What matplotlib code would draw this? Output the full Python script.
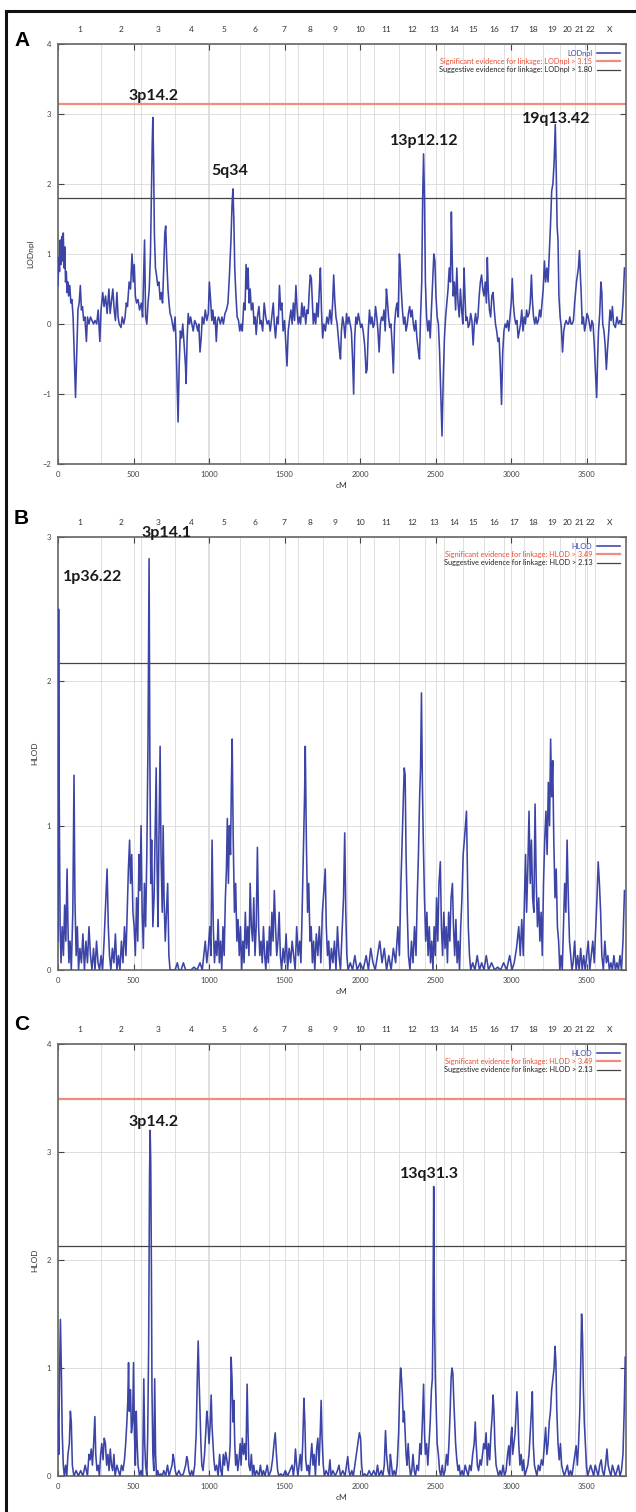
import numpy as np
import matplotlib
matplotlib.use("Agg")
import matplotlib.pyplot as plt
from matplotlib.lines import Line2D

plt.rcParams['font.family'] = ['Lato', 'DejaVu Sans']

# chromosome names and genetic lengths (cM)
chrom_names = ['1', '2', '3', '4', '5', '6', '7', '8', '9', '10', '11', '12',
               '13', '14', '15', '16', '17', '18', '19', '20', '21', '22', 'X']
chrom_len = [287, 260, 226, 220, 215, 190, 190, 165, 160, 180, 165, 170,
             130, 125, 135, 135, 130, 130, 110, 100, 65, 70, 185]

# panel A: LODnpl (cM, LOD)
lodnpl_a = [
    (0, 0.55), (5, 0.95), (10, 0.75), (15, 1.2), (20, 0.85), (25, 1.25), (30, 0.9), (35, 1.3),
    (40, 0.8), (45, 1.1), (50, 0.6), (55, 0.75), (60, 0.45), (65, 0.6), (70, 0.4), (78, 0.55),
    (85, 0.3), (92, 0.35), (100, 0.1), (108, -0.5), (116, -1.05), (124, -0.4), (132, 0.2),
    (140, 0.3), (148, 0.55), (155, 0.2), (162, 0.25), (170, 0.05), (178, 0.1), (188, -0.25),
    (195, 0.1), (205, 0.0), (215, 0.1), (225, 0.05), (235, 0.0), (245, 0.05), (256, 0.0),
    (266, 0.2), (277, -0.25), (285, 0.2), (296, 0.45), (305, 0.25), (315, 0.4), (325, 0.15),
    (337, 0.5), (345, 0.15), (355, 0.35), (363, 0.5), (372, 0.2), (380, 0.05), (390, 0.45),
    (398, 0.1), (405, 0.0), (417, -0.05), (425, 0.1), (435, 0.0), (444, 0.1), (452, 0.3),
    (460, 0.25), (471, 0.6), (480, 0.5), (490, 1.0), (498, 0.6), (505, 0.85), (512, 0.4),
    (520, 0.3), (530, 0.35), (540, 0.2), (552, 0.3), (560, 0.1), (566, 0.6), (573, 1.2),
    (580, 0.1), (588, 0.0), (596, 0.3), (604, 0.5), (612, 1.0), (618, 1.8), (624, 2.6),
    (628, 2.95), (633, 2.3), (638, 1.3), (645, 0.8), (652, 0.7), (660, 0.55), (668, 0.6),
    (676, 0.35), (684, 0.45), (692, 0.3), (700, 0.8), (707, 1.3), (713, 1.4), (720, 0.9),
    (728, 0.5), (735, 0.3), (742, 0.15), (750, 0.1), (758, 0.0), (766, -0.1), (775, 0.1),
    (782, -0.3), (790, -1.0), (795, -1.4), (802, -0.6), (810, -0.1), (818, -0.2), (826, 0.0),
    (835, -0.3), (844, -0.6), (848, -0.85), (855, -0.2), (862, 0.15), (870, 0.0), (878, 0.1),
    (886, 0.0), (895, -0.1), (905, 0.05), (915, 0.0), (925, -0.1), (932, 0.0), (940, -0.4),
    (948, -0.2), (955, 0.1), (965, 0.0), (975, 0.2), (985, 0.05), (995, 0.15), (1002, 0.6),
    (1010, 0.35), (1018, 0.05), (1025, 0.2), (1032, 0.0), (1040, 0.1), (1048, -0.25),
    (1055, 0.05), (1063, 0.1), (1075, 0.0), (1085, 0.1), (1095, 0.0), (1105, 0.15),
    (1115, 0.2), (1125, 0.3), (1135, 0.7), (1145, 1.2), (1152, 1.7), (1158, 1.93),
    (1164, 1.5), (1170, 0.8), (1178, 0.4), (1186, 0.1), (1195, 0.05), (1203, -0.1),
    (1212, 0.0), (1220, -0.1), (1230, 0.3), (1238, 0.2), (1245, 0.85), (1252, 0.5),
    (1258, 0.8), (1265, 0.3), (1272, 0.5), (1280, 0.2), (1290, 0.3), (1298, 0.0), (1305, 0.1),
    (1312, -0.15), (1320, 0.1), (1330, 0.25), (1338, 0.0), (1345, 0.05), (1355, -0.1),
    (1365, 0.3), (1375, 0.1), (1385, 0.0), (1395, 0.05), (1405, -0.1), (1415, 0.1),
    (1425, 0.3), (1432, 0.0), (1440, -0.2), (1450, 0.1), (1458, 0.0), (1466, 0.55),
    (1474, 0.2), (1482, 0.3), (1490, -0.1), (1500, 0.05), (1510, -0.35), (1516, -0.6),
    (1524, -0.1), (1532, 0.05), (1542, 0.2), (1550, 0.0), (1558, 0.3), (1566, 0.05),
    (1575, 0.55), (1583, 0.2), (1590, 0.0), (1598, 0.1), (1606, 0.0), (1614, 0.3),
    (1622, 0.1), (1630, 0.25), (1640, 0.0), (1648, 0.2), (1656, 0.15), (1664, 0.5),
    (1670, 0.7), (1677, 0.65), (1684, 0.3), (1690, 0.0), (1698, 0.15), (1706, 0.0),
    (1714, 0.3), (1722, 0.1), (1730, 0.5), (1737, 0.8), (1744, 0.2), (1752, -0.2),
    (1760, 0.0), (1770, -0.1), (1780, 0.1), (1790, 0.0), (1800, 0.2), (1810, 0.0),
    (1818, 0.3), (1825, 0.7), (1832, 0.35), (1840, 0.1), (1848, 0.0), (1856, -0.2),
    (1864, -0.4), (1870, -0.5), (1876, -0.1), (1884, 0.1), (1892, 0.0), (1900, -0.2),
    (1910, 0.15), (1918, 0.0), (1926, 0.1), (1934, 0.0), (1942, -0.1), (1950, -0.5),
    (1957, -1.0), (1964, -0.2), (1972, 0.1), (1980, 0.0), (1988, 0.15), (1996, 0.05),
    (2004, -0.05), (2012, 0.0), (2020, -0.1), (2030, -0.3), (2040, -0.7), (2046, -0.65),
    (2054, -0.1), (2062, 0.2), (2070, 0.0), (2078, 0.1), (2086, -0.05), (2094, 0.0),
    (2102, 0.25), (2110, 0.1), (2118, -0.1), (2126, -0.4), (2134, 0.0), (2142, 0.1),
    (2150, 0.05), (2158, 0.2), (2166, -0.1), (2174, 0.5), (2180, 0.35), (2188, 0.1),
    (2196, -0.05), (2204, 0.0), (2212, -0.3), (2220, -0.7), (2228, 0.0), (2236, 0.2),
    (2244, 0.3), (2252, 0.1), (2260, 1.0), (2266, 0.8), (2272, 0.5), (2280, 0.2),
    (2288, 0.0), (2296, 0.1), (2304, -0.1), (2312, 0.0), (2320, 0.15), (2328, 0.25),
    (2336, 0.1), (2344, 0.2), (2352, 0.0), (2360, -0.1), (2368, 0.05), (2376, -0.2),
    (2386, -0.4), (2393, -0.5), (2400, 0.1), (2408, 0.6), (2414, 1.8), (2420, 2.43),
    (2426, 1.8), (2432, 0.6), (2440, 0.1), (2448, -0.1), (2456, 0.05), (2464, -0.2),
    (2472, 0.2), (2480, 0.6), (2488, 1.0), (2495, 0.9), (2502, 0.4), (2510, 0.1),
    (2518, 0.0), (2526, -0.4), (2534, -1.0), (2542, -1.6), (2550, -0.8), (2558, -0.2),
    (2566, 0.1), (2574, 0.3), (2582, 0.5), (2590, 0.8), (2598, 0.6), (2604, 1.6),
    (2610, 0.9), (2616, 0.4), (2624, 0.6), (2632, 0.2), (2640, 0.8), (2648, 0.3),
    (2656, 0.1), (2664, 0.5), (2672, 0.2), (2680, 0.0), (2688, 0.8), (2694, 0.4),
    (2700, 0.05), (2708, 0.1), (2716, -0.05), (2724, 0.0), (2732, 0.15), (2740, 0.05),
    (2748, -0.3), (2756, 0.0), (2764, 0.15), (2772, 0.0), (2780, 0.1), (2788, 0.4),
    (2796, 0.6), (2804, 0.7), (2812, 0.5), (2820, 0.4), (2828, 0.6), (2836, 0.3),
    (2842, 0.95), (2848, 0.5), (2856, 0.2), (2864, 0.1), (2872, 0.4), (2880, 0.45),
    (2888, 0.2), (2896, 0.0), (2904, -0.1), (2912, -0.25), (2920, -0.2), (2928, -0.6),
    (2936, -1.15), (2944, -0.4), (2952, -0.1), (2960, 0.0), (2968, -0.05), (2976, 0.05),
    (2984, -0.1), (2992, 0.1), (3000, 0.3), (3007, 0.65), (3014, 0.3), (3022, 0.1),
    (3030, 0.0), (3038, 0.05), (3046, -0.2), (3054, -0.1), (3062, 0.0), (3070, 0.2),
    (3078, -0.1), (3086, 0.1), (3094, 0.0), (3102, 0.2), (3110, 0.1), (3118, 0.15),
    (3126, 0.3), (3134, 0.7), (3140, 0.35), (3148, 0.1), (3156, 0.0), (3164, 0.1),
    (3172, 0.0), (3180, 0.05), (3188, 0.2), (3196, 0.1), (3204, 0.3), (3212, 0.5),
    (3220, 0.9), (3228, 0.6), (3236, 0.8), (3244, 0.6), (3252, 1.0), (3260, 1.4),
    (3268, 1.9), (3276, 2.0), (3284, 2.3), (3292, 2.85), (3298, 2.2), (3304, 1.4),
    (3310, 1.2), (3316, 0.4), (3324, 0.1), (3332, -0.05), (3340, -0.4), (3348, -0.1),
    (3356, 0.0), (3364, 0.05), (3372, 0.0), (3380, 0.0), (3388, 0.1), (3396, 0.0),
    (3404, 0.0), (3412, 0.05), (3420, 0.3), (3432, 0.6), (3445, 0.8), (3452, 1.05),
    (3458, 0.7), (3464, 0.4), (3470, 0.0), (3478, 0.1), (3486, -0.1), (3494, 0.0),
    (3502, 0.15), (3510, 0.1), (3518, 0.0), (3526, -0.1), (3534, 0.05), (3542, 0.0),
    (3550, -0.3), (3558, -0.7), (3566, -1.05), (3572, -0.5), (3578, -0.1), (3586, 0.15),
    (3594, 0.6), (3600, 0.45), (3606, 0.0), (3614, -0.1), (3622, -0.3), (3630, -0.65),
    (3638, -0.35), (3646, -0.1), (3654, 0.2), (3662, 0.05), (3670, 0.25), (3678, 0.0),
    (3690, -0.05), (3700, 0.1), (3710, 0.0), (3720, 0.05), (3730, 0.0), (3740, 0.3),
    (3750, 0.8),
]

# panel B: HLOD (cM, HLOD)
hlod_b = [
    (0, 0.2), (4, 2.5), (8, 1.2), (14, 0.3), (20, 0.05), (28, 0.3), (36, 0.1), (44, 0.45),
    (52, 0.2), (60, 0.7), (66, 0.3), (72, 0.05), (80, 0.2), (88, 0.0), (98, 0.4), (106, 1.35),
    (112, 0.5), (120, 0.1), (128, 0.3), (136, 0.0), (145, 0.15), (155, 0.05), (165, 0.25),
    (175, 0.0), (185, 0.2), (195, 0.05), (205, 0.3), (215, 0.1), (225, 0.0), (235, 0.15),
    (245, 0.0), (255, 0.2), (265, 0.05), (275, 0.0), (285, 0.1), (295, 0.0), (305, 0.2),
    (315, 0.45), (325, 0.7), (333, 0.3), (341, 0.1), (350, 0.0), (360, 0.15), (370, 0.05),
    (380, 0.25), (390, 0.0), (400, 0.1), (410, 0.0), (420, 0.2), (430, 0.05), (440, 0.3),
    (450, 0.1), (458, 0.4), (466, 0.7), (474, 0.9), (480, 0.6), (488, 0.8), (496, 0.4),
    (504, 0.3), (512, 0.1), (520, 0.5), (528, 0.2), (536, 0.8), (543, 0.55), (550, 1.0),
    (557, 0.4), (565, 0.15), (572, 0.6), (580, 0.3), (588, 0.8), (596, 1.6), (603, 2.85),
    (608, 1.5), (614, 0.6), (620, 0.9), (628, 0.3), (636, 0.5), (644, 1.0), (650, 1.4),
    (656, 0.7), (662, 0.3), (668, 0.9), (676, 1.55), (682, 0.8), (690, 0.4), (696, 1.0),
    (702, 0.5), (710, 0.2), (718, 0.4), (726, 0.6), (734, 0.1), (742, 0.0), (760, 0.0),
    (775, 0.0), (790, 0.05), (800, 0.0), (815, 0.0), (830, 0.05), (845, 0.0), (860, 0.0),
    (880, 0.0), (900, 0.02), (920, 0.0), (940, 0.05), (955, 0.0), (965, 0.1), (975, 0.2),
    (985, 0.05), (995, 0.15), (1005, 0.3), (1012, 0.1), (1020, 0.9), (1028, 0.3),
    (1036, 0.05), (1044, 0.2), (1052, 0.1), (1060, 0.35), (1068, 0.05), (1076, 0.2),
    (1084, 0.0), (1092, 0.3), (1100, 0.1), (1108, 0.5), (1115, 0.7), (1121, 1.05),
    (1128, 0.6), (1135, 1.0), (1142, 0.8), (1148, 1.3), (1153, 1.6), (1160, 0.9),
    (1168, 0.4), (1176, 0.6), (1184, 0.2), (1192, 0.35), (1200, 0.1), (1208, 0.3),
    (1216, 0.0), (1224, 0.2), (1232, 0.05), (1240, 0.4), (1248, 0.15), (1256, 0.3),
    (1264, 0.1), (1272, 0.6), (1280, 0.3), (1288, 0.2), (1296, 0.5), (1304, 0.1),
    (1312, 0.3), (1320, 0.85), (1328, 0.3), (1336, 0.1), (1344, 0.2), (1352, 0.05),
    (1360, 0.3), (1368, 0.1), (1376, 0.0), (1384, 0.2), (1392, 0.05), (1400, 0.3),
    (1408, 0.1), (1416, 0.4), (1424, 0.2), (1432, 0.55), (1440, 0.3), (1448, 0.1),
    (1456, 0.2), (1464, 0.4), (1472, 0.1), (1480, 0.0), (1490, 0.15), (1500, 0.05),
    (1510, 0.25), (1520, 0.0), (1530, 0.15), (1540, 0.05), (1550, 0.2), (1560, 0.1),
    (1570, 0.0), (1580, 0.3), (1590, 0.1), (1600, 0.2), (1608, 0.05), (1616, 0.4),
    (1624, 0.8), (1632, 1.2), (1637, 1.55), (1644, 0.9), (1652, 0.4), (1660, 0.6),
    (1668, 0.2), (1676, 0.3), (1684, 0.05), (1692, 0.2), (1700, 0.0), (1710, 0.25),
    (1720, 0.1), (1730, 0.3), (1740, 0.05), (1750, 0.4), (1760, 0.55), (1769, 0.7),
    (1776, 0.3), (1784, 0.1), (1792, 0.2), (1800, 0.0), (1810, 0.15), (1820, 0.05),
    (1830, 0.2), (1840, 0.0), (1850, 0.3), (1860, 0.1), (1870, 0.0), (1880, 0.25),
    (1890, 0.5), (1898, 0.95), (1905, 0.4), (1912, 0.1), (1920, 0.0), (1935, 0.05),
    (1950, 0.0), (1965, 0.1), (1980, 0.0), (2000, 0.05), (2020, 0.0), (2040, 0.1),
    (2055, 0.0), (2070, 0.15), (2085, 0.05), (2100, 0.0), (2115, 0.1), (2130, 0.2),
    (2145, 0.05), (2160, 0.15), (2175, 0.0), (2190, 0.1), (2205, 0.0), (2220, 0.15),
    (2235, 0.05), (2250, 0.3), (2260, 0.1), (2270, 0.6), (2278, 0.9), (2286, 1.2),
    (2292, 1.4), (2298, 1.35), (2304, 0.8), (2312, 0.4), (2320, 0.1), (2330, 0.0),
    (2340, 0.2), (2350, 0.05), (2360, 0.3), (2370, 0.1), (2378, 0.5), (2386, 0.8),
    (2394, 1.2), (2400, 1.4), (2406, 1.92), (2412, 1.3), (2418, 0.9), (2426, 0.5),
    (2434, 0.2), (2442, 0.4), (2450, 0.1), (2458, 0.3), (2466, 0.05), (2474, 0.2),
    (2482, 0.0), (2490, 0.3), (2498, 0.1), (2506, 0.5), (2514, 0.2), (2522, 0.6),
    (2531, 0.75), (2538, 0.3), (2546, 0.1), (2554, 0.4), (2562, 0.15), (2570, 0.3),
    (2578, 0.05), (2586, 0.4), (2594, 0.2), (2602, 0.5), (2611, 0.6), (2618, 0.3),
    (2626, 0.1), (2634, 0.35), (2642, 0.05), (2650, 0.2), (2658, 0.0), (2666, 0.3),
    (2674, 0.5), (2682, 0.8), (2690, 0.9), (2697, 1.0), (2704, 1.1), (2710, 0.7),
    (2716, 0.3), (2724, 0.1), (2732, 0.0), (2745, 0.05), (2760, 0.0), (2775, 0.1),
    (2790, 0.0), (2805, 0.05), (2820, 0.0), (2835, 0.1), (2850, 0.0), (2870, 0.05),
    (2890, 0.0), (2910, 0.02), (2930, 0.0), (2950, 0.05), (2970, 0.0), (2990, 0.1),
    (3005, 0.0), (3020, 0.05), (3035, 0.15), (3050, 0.3), (3060, 0.1), (3070, 0.35),
    (3080, 0.1), (3088, 0.5), (3095, 0.8), (3102, 0.4), (3110, 0.7), (3118, 1.1),
    (3126, 0.6), (3134, 0.9), (3142, 0.5), (3150, 0.4), (3158, 1.15), (3166, 0.6),
    (3174, 0.3), (3182, 0.5), (3190, 0.2), (3198, 0.4), (3206, 0.1), (3214, 0.6),
    (3222, 0.9), (3230, 1.1), (3238, 0.8), (3246, 1.3), (3254, 1.0), (3261, 1.6),
    (3268, 1.2), (3275, 1.45), (3282, 0.9), (3290, 0.5), (3298, 0.7), (3306, 0.3),
    (3314, 0.2), (3322, 0.0), (3330, 0.1), (3338, 0.0), (3346, 0.3), (3354, 0.6),
    (3362, 0.4), (3370, 0.9), (3378, 0.5), (3386, 0.2), (3394, 0.1), (3402, 0.0),
    (3410, 0.05), (3420, 0.2), (3430, 0.0), (3440, 0.1), (3450, 0.0), (3460, 0.15),
    (3470, 0.0), (3480, 0.1), (3490, 0.0), (3500, 0.1), (3510, 0.2), (3520, 0.0),
    (3530, 0.1), (3540, 0.2), (3550, 0.05), (3560, 0.3), (3568, 0.5), (3576, 0.75),
    (3584, 0.6), (3592, 0.4), (3600, 0.1), (3610, 0.0), (3620, 0.2), (3630, 0.05),
    (3640, 0.1), (3650, 0.0), (3660, 0.05), (3670, 0.0), (3680, 0.1), (3690, 0.0),
    (3700, 0.05), (3710, 0.0), (3720, 0.1), (3730, 0.0), (3740, 0.2), (3750, 0.55),
]

# panel C: HLOD (cM, HLOD)
hlod_c = [
    (0, 0.6), (5, 0.2), (10, 0.9), (16, 1.45), (22, 1.0), (28, 0.4), (35, 0.1), (42, 0.0),
    (50, 0.1), (58, 0.0), (66, 0.2), (75, 0.3), (82, 0.6), (88, 0.5), (95, 0.1), (105, 0.0),
    (120, 0.05), (135, 0.0), (150, 0.05), (165, 0.0), (180, 0.1), (195, 0.0), (205, 0.2),
    (212, 0.15), (220, 0.25), (228, 0.1), (236, 0.3), (244, 0.55), (250, 0.2), (258, 0.05),
    (266, 0.1), (274, 0.0), (282, 0.2), (290, 0.3), (298, 0.15), (306, 0.35), (314, 0.3),
    (322, 0.1), (330, 0.2), (338, 0.05), (346, 0.25), (354, 0.1), (362, 0.05), (370, 0.2),
    (378, 0.0), (390, 0.1), (400, 0.05), (410, 0.0), (420, 0.1), (430, 0.05), (440, 0.15),
    (448, 0.3), (456, 0.5), (462, 0.7), (467, 1.05), (472, 0.6), (480, 0.8), (486, 0.4),
    (494, 0.5), (500, 1.05), (506, 0.4), (512, 0.1), (518, 0.6), (524, 0.3), (530, 0.1),
    (540, 0.0), (550, 0.05), (560, 0.0), (568, 0.9), (574, 0.3), (580, 0.1), (588, 0.0),
    (594, 0.4), (600, 1.2), (606, 2.8), (610, 3.2), (614, 2.9), (618, 2.0), (622, 0.8),
    (628, 0.2), (634, 0.05), (640, 0.9), (646, 0.2), (652, 0.0), (660, 0.05), (670, 0.0),
    (680, 0.02), (690, 0.0), (700, 0.05), (712, 0.0), (725, 0.1), (735, 0.0), (745, 0.05),
    (755, 0.1), (762, 0.2), (768, 0.15), (776, 0.05), (785, 0.0), (800, 0.05), (815, 0.0),
    (830, 0.02), (845, 0.1), (852, 0.18), (858, 0.15), (866, 0.05), (875, 0.0), (885, 0.05),
    (895, 0.0), (905, 0.1), (915, 0.4), (922, 0.9), (928, 1.25), (934, 0.9), (940, 0.6),
    (946, 0.3), (952, 0.1), (960, 0.05), (970, 0.2), (978, 0.4), (985, 0.6), (992, 0.5),
    (1000, 0.3), (1008, 0.5), (1014, 0.75), (1020, 0.45), (1026, 0.3), (1032, 0.15),
    (1040, 0.05), (1050, 0.1), (1060, 0.0), (1070, 0.2), (1078, 0.05), (1086, 0.0),
    (1094, 0.2), (1102, 0.1), (1110, 0.22), (1118, 0.15), (1126, 0.05), (1134, 0.15),
    (1140, 0.3), (1146, 1.1), (1152, 0.9), (1158, 0.5), (1164, 0.7), (1170, 0.3),
    (1176, 0.1), (1184, 0.2), (1190, 0.05), (1198, 0.15), (1206, 0.3), (1212, 0.1),
    (1220, 0.35), (1228, 0.2), (1236, 0.3), (1244, 0.15), (1252, 0.85), (1258, 0.4),
    (1264, 0.1), (1272, 0.05), (1280, 0.2), (1288, 0.0), (1296, 0.1), (1304, 0.0),
    (1315, 0.05), (1330, 0.0), (1340, 0.1), (1350, 0.0), (1360, 0.05), (1370, 0.0),
    (1385, 0.1), (1395, 0.0), (1410, 0.05), (1420, 0.15), (1430, 0.3), (1438, 0.4),
    (1446, 0.2), (1454, 0.05), (1462, 0.0), (1475, 0.02), (1490, 0.0), (1505, 0.05),
    (1520, 0.0), (1535, 0.05), (1550, 0.1), (1558, 0.0), (1566, 0.1), (1572, 0.25),
    (1580, 0.1), (1588, 0.0), (1596, 0.1), (1604, 0.2), (1612, 0.05), (1620, 0.3),
    (1628, 0.72), (1634, 0.5), (1640, 0.15), (1648, 0.05), (1656, 0.1), (1664, 0.0),
    (1672, 0.15), (1680, 0.3), (1688, 0.1), (1696, 0.2), (1704, 0.0), (1712, 0.25),
    (1720, 0.35), (1728, 0.1), (1736, 0.4), (1742, 0.7), (1748, 0.35), (1756, 0.1),
    (1764, 0.0), (1775, 0.05), (1790, 0.0), (1800, 0.15), (1808, 0.0), (1820, 0.05),
    (1835, 0.0), (1850, 0.05), (1860, 0.1), (1870, 0.0), (1885, 0.05), (1900, 0.0),
    (1910, 0.1), (1918, 0.18), (1926, 0.05), (1934, 0.0), (1945, 0.05), (1955, 0.0),
    (1965, 0.1), (1975, 0.2), (1985, 0.3), (1995, 0.4), (2003, 0.35), (2010, 0.1),
    (2018, 0.0), (2030, 0.02), (2045, 0.0), (2060, 0.05), (2075, 0.0), (2090, 0.05),
    (2105, 0.0), (2115, 0.1), (2125, 0.0), (2140, 0.05), (2150, 0.0), (2160, 0.1),
    (2168, 0.42), (2175, 0.2), (2185, 0.05), (2195, 0.0), (2200, 0.2), (2208, 0.1),
    (2215, 0.0), (2225, 0.05), (2235, 0.0), (2245, 0.1), (2255, 0.4), (2262, 0.8),
    (2268, 1.0), (2274, 0.9), (2280, 0.75), (2286, 0.5), (2292, 0.6), (2298, 0.4),
    (2304, 0.2), (2310, 0.1), (2318, 0.3), (2326, 0.1), (2334, 0.0), (2342, 0.05),
    (2350, 0.2), (2358, 0.05), (2366, 0.0), (2376, 0.1), (2386, 0.05), (2396, 0.3),
    (2404, 0.2), (2412, 0.5), (2420, 0.85), (2426, 0.4), (2432, 0.2), (2440, 0.3),
    (2448, 0.1), (2456, 0.3), (2464, 0.5), (2472, 0.8), (2478, 0.9), (2482, 1.4),
    (2487, 2.68), (2492, 1.5), (2498, 0.9), (2504, 0.6), (2510, 0.3), (2518, 0.2),
    (2526, 0.05), (2534, 0.0), (2544, 0.1), (2552, 0.0), (2562, 0.05), (2572, 0.2),
    (2580, 0.1), (2588, 0.3), (2596, 0.6), (2602, 0.9), (2608, 1.0), (2614, 0.95),
    (2620, 0.7), (2626, 0.5), (2632, 0.3), (2640, 0.15), (2648, 0.05), (2656, 0.1),
    (2664, 0.0), (2675, 0.05), (2685, 0.0), (2695, 0.1), (2705, 0.05), (2715, 0.0),
    (2725, 0.1), (2735, 0.05), (2745, 0.2), (2755, 0.3), (2762, 0.5), (2768, 0.3),
    (2776, 0.1), (2784, 0.05), (2794, 0.15), (2802, 0.1), (2810, 0.2), (2818, 0.3),
    (2826, 0.25), (2834, 0.4), (2842, 0.1), (2850, 0.3), (2858, 0.15), (2866, 0.4),
    (2874, 0.55), (2880, 0.75), (2886, 0.6), (2892, 0.3), (2900, 0.1), (2908, 0.05),
    (2916, 0.0), (2926, 0.05), (2936, 0.0), (2946, 0.1), (2956, 0.0), (2966, 0.05),
    (2976, 0.2), (2984, 0.28), (2990, 0.1), (2998, 0.35), (3004, 0.45), (3010, 0.2),
    (3018, 0.3), (3026, 0.4), (3032, 0.6), (3038, 0.78), (3044, 0.6), (3050, 0.3),
    (3058, 0.1), (3066, 0.2), (3074, 0.05), (3082, 0.15), (3090, 0.0), (3100, 0.05),
    (3110, 0.1), (3118, 0.2), (3126, 0.4), (3134, 0.6), (3140, 0.78), (3146, 0.3),
    (3154, 0.1), (3162, 0.05), (3170, 0.0), (3180, 0.1), (3190, 0.05), (3200, 0.15),
    (3210, 0.1), (3220, 0.3), (3228, 0.45), (3236, 0.2), (3244, 0.3), (3252, 0.5),
    (3260, 0.6), (3268, 0.8), (3276, 0.9), (3284, 1.0), (3290, 1.2), (3296, 1.05),
    (3302, 0.6), (3310, 0.3), (3318, 0.15), (3326, 0.3), (3334, 0.1), (3342, 0.05),
    (3352, 0.0), (3362, 0.05), (3372, 0.1), (3382, 0.0), (3392, 0.05), (3402, 0.0),
    (3412, 0.1), (3422, 0.2), (3430, 0.28), (3438, 0.1), (3446, 0.3), (3454, 0.6),
    (3460, 1.0), (3466, 1.5), (3472, 1.3), (3478, 0.8), (3484, 0.5), (3490, 0.32),
    (3498, 0.1), (3506, 0.0), (3516, 0.05), (3526, 0.1), (3536, 0.05), (3546, 0.0),
    (3556, 0.1), (3566, 0.05), (3576, 0.0), (3586, 0.1), (3596, 0.15), (3604, 0.05),
    (3614, 0.0), (3624, 0.1), (3634, 0.25), (3642, 0.1), (3650, 0.05), (3660, 0.0),
    (3670, 0.1), (3680, 0.05), (3690, 0.0), (3700, 0.05), (3710, 0.1), (3720, 0.0),
    (3730, 0.05), (3740, 0.2), (3748, 0.6), (3755, 1.1),
]

# thresholds (significant, suggestive)
thr_a = (3.15, 1.80)
thr_b = (3.49, 2.13)
thr_c = (3.49, 2.13)

# peak labels: (text, cM, value)
peaks_a = [('3p14.2', 630, 3.26), ('5q34', 1140, 2.19), ('13p12.12', 2427, 2.61), ('19q13.42', 3296, 2.93)]
peaks_b = [('1p36.22', 232, 2.72), ('3p14.1', 716, 3.03)]
peaks_c = [('3p14.2', 630, 3.28), ('13q31.3', 2460, 2.8)]

BLUE = '#3c44a6'
RED = '#f28c7c'
REDTXT = '#ee4a30'
GRID = '#d9d9d9'
SPINE = '#666666'


def draw_panel(ax, data, stat, thr, ylim, peaks):
    data = np.array(data)
    ends = np.cumsum(chrom_len)
    starts = ends - np.array(chrom_len)

    ax.set_xlim(0, 3760)
    ax.set_ylim(*ylim)
    ax.set_xticks(np.arange(0, 3760, 500))
    ax.set_yticks(np.arange(ylim[0], ylim[1] + 1, 1))
    ax.grid(True, color=GRID, lw=0.6, zorder=0)
    for e in ends[:-1]:
        ax.axvline(e, color=GRID, lw=0.6, zorder=0)

    ax.plot(data[:, 0], data[:, 1], color=BLUE, lw=1.15, label=stat, zorder=3)
    ax.axhline(thr[0], color=RED, lw=1.6, zorder=2,
               label='Significant evidence for linkage: %s > %.2f' % (stat, thr[0]))
    ax.axhline(thr[1], color='#444444', lw=0.9, zorder=2,
               label='Suggestive evidence for linkage: %s > %.2f' % (stat, thr[1]))

    leg = ax.legend(loc='upper right', frameon=False, fontsize=5.3, markerfirst=False,
                    handlelength=3.2, handletextpad=0.6, labelspacing=0.15,
                    borderaxespad=0.4)
    for t, c in zip(leg.get_texts(), [BLUE, REDTXT, '#222222']):
        t.set_color(c)

    for name, s, e in zip(chrom_names, starts, ends):
        ax.text((s + e) / 2, 1.025, name, transform=ax.get_xaxis_transform(),
                ha='center', va='bottom', fontsize=6, color='#333333')

    for txt, x, y in peaks:
        ax.text(x, y, txt, ha='center', va='center', fontsize=11.5,
                fontweight='bold', color='#1a1a1a', zorder=4, clip_on=False)

    ax.tick_params(direction='in', top=True, right=True, length=4, width=0.8,
                   labelsize=5.5, colors='#444444', pad=5)
    for sp in ax.spines.values():
        sp.set_color(SPINE)
        sp.set_linewidth(1.2)
    ax.set_xlabel('cM', fontsize=6, color='#333333', labelpad=3)
    ax.set_ylabel(stat, fontsize=6, color='#333333', labelpad=6)


def main():
    fig = plt.figure(figsize=(6.36, 15.12), dpi=100)
    W, H = 636.0, 1512.0
    left, right = 58 / W, 626 / W
    # (top px, bottom px) of each panel
    boxes = [(44, 464), (537, 970), (1044, 1476)]
    axes = []
    for top, bot in boxes:
        axes.append(fig.add_axes([left, 1 - bot / H, right - left, (bot - top) / H]))

    draw_panel(axes[0], lodnpl_a, 'LODnpl', thr_a, (-2, 4), peaks_a)
    draw_panel(axes[1], hlod_b, 'HLOD', thr_b, (0, 3), peaks_b)
    draw_panel(axes[2], hlod_c, 'HLOD', thr_c, (0, 4), peaks_c)

    # panel letters
    for letter, ypx in zip(['A', 'B', 'C'], [40, 518, 1025]):
        fig.text(14 / W, 1 - ypx / H, letter, fontsize=15, fontweight='bold',
                 family='Liberation Sans', ha='left', va='center')

    # outer frame (top and left edge)
    fig.add_artist(Line2D([6 / W, 6 / W], [0, 1 - 11 / H], color='#111111', lw=2.2))
    fig.add_artist(Line2D([6 / W, 1], [1 - 11 / H, 1 - 11 / H], color='#111111', lw=2.2))

    fig.savefig('out.png', dpi=100, facecolor='white')


if __name__ == "__main__":
    main()
